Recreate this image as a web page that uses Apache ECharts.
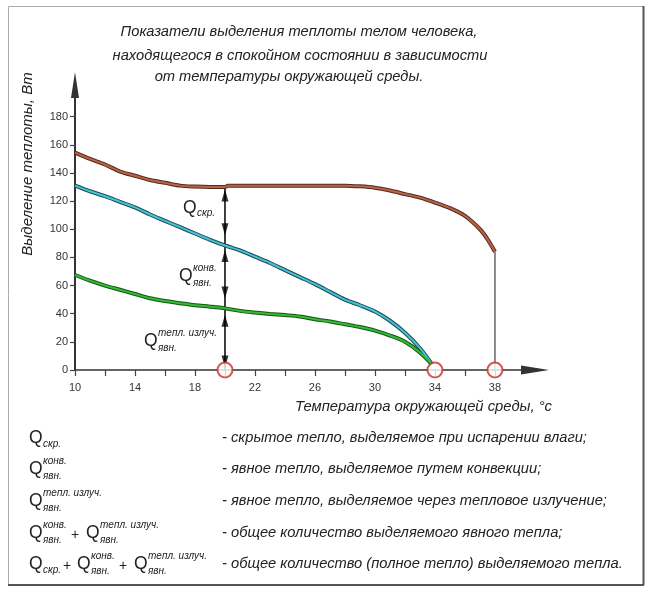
<!DOCTYPE html>
<html>
<head>
<meta charset="utf-8">
<script src="https://cdn.jsdelivr.net/npm/echarts@6/dist/echarts.min.js"></script>
<style>
html,body{margin:0;padding:0;background:#fff;}
#chart{width:660px;height:605px;}
</style>
</head>
<body>
<div id="chart"></div>
<script>
// ---- data ----
const tempTotal = [10, 11, 12, 13, 14, 15, 16, 17, 18, 19, 20, 20.2, 22, 24, 26, 28, 29, 30, 31, 32, 33, 34, 35, 36, 37, 37.5, 38];
const totalHeat = [154.5, 150, 146, 141, 138, 135, 133, 131, 130.3, 130, 130, 131, 131, 131, 131, 131, 130.5, 129.5, 127.5, 125, 122.5, 119, 115, 109.5, 100, 93, 84];
const tempSensible = [10, 11, 12, 13, 14, 15, 16, 17, 18, 19, 20, 21, 22, 23, 24, 25, 26, 27, 28, 29, 30, 31, 32, 33, 33.8];
const sensibleHeat = [131, 127, 123.5, 119.5, 115.5, 110.5, 106, 101.5, 97, 92.5, 88.5, 85, 80.5, 76, 71, 66, 61, 55.5, 50, 46, 41.5, 35, 26.5, 15.5, 4];
const tempRadiant = [10, 11, 12, 13, 14, 15, 16, 17, 18, 19, 20, 21, 22, 23, 24, 25, 26, 27, 28, 29, 30, 31, 32, 33, 33.8];
const radiantHeat = [67.5, 63.5, 60, 57, 54, 51, 49, 47.5, 46, 45, 43.8, 42, 40.8, 39.8, 39, 38, 36, 34.5, 32.5, 30.5, 28, 24.5, 20, 12.5, 4];
const markTemps = [20, 34, 38];
const dividerTemp = 20;
const dividerTop = 131;
const arrowsUp = [124, 81, 35];
const arrowsDown = [100, 55, 6];
const dropTemp = 38;
const dropTop = 84;
const xTicks = [10, 12, 14, 16, 18, 20, 22, 24, 26, 28, 30, 32, 34, 36, 38];
const xLabels = [10, 14, 18, 22, 26, 30, 34, 38];
const yTicks = [0, 20, 40, 60, 80, 100, 120, 140, 160, 180];

const titleLines = [
  'Показатели выделения теплоты телом человека,',
  'находящегося в спокойном состоянии в зависимости',
  'от температуры окружающей среды.'
];
const yAxisTitle = 'Выделение теплоты, Вт';
const xAxisTitle = 'Температура окружающей среды, °с';
const legendTexts = [
  '- скрытое тепло, выделяемое при испарении влаги;',
  '- явное тепло, выделяемое путем конвекции;',
  '- явное тепло, выделяемое через тепловое излучение;',
  '- общее количество выделяемого явного тепла;',
  '- общее количество (полное тепло) выделяемого тепла.'
];

const FONT = "'Liberation Sans', Arial, sans-serif";
const zip = (xs, ys) => xs.map((x, i) => [x, ys[i]]);

function txt(x, y, text, size, opts) {
  opts = opts || {};
  return {
    type: 'text', x: x, y: y, rotation: opts.rotation || 0, z: 100,
    style: {
      text: text, fontSize: size, fontFamily: FONT,
      fontStyle: opts.italic === false ? 'normal' : 'italic',
      fill: opts.fill || '#222',
      align: opts.align || 'left', verticalAlign: 'middle'
    }
  };
}
function qLabel(x, y, sup, sub, subDy) {
  const els = [txt(x, y, 'Q', 17.5, {italic: false})];
  if (sup) els.push(txt(x + 14, y - 8, sup, 10));
  if (sub) els.push(txt(x + 14, y + (subDy || 7), sub, 10));
  return els;
}

const graphics = [
  {type: 'rect', shape: {x: 8.5, y: 6.5, width: 635, height: 578}, style: {fill: 'none', stroke: '#aaa', lineWidth: 1}, z: 1},
  {type: 'line', shape: {x1: 643.5, y1: 6, x2: 643.5, y2: 585}, style: {stroke: '#555', lineWidth: 2}, z: 2},
  {type: 'line', shape: {x1: 8, y1: 585, x2: 644, y2: 585}, style: {stroke: '#555', lineWidth: 2}, z: 2},
  txt(299, 32, titleLines[0], 14.7, {align: 'center'}),
  txt(300, 56, titleLines[1], 14.7, {align: 'center'}),
  txt(289, 77, titleLines[2], 14.7, {align: 'center'}),
  txt(28, 164, yAxisTitle, 15, {align: 'center', rotation: Math.PI / 2}),
  txt(552, 407, xAxisTitle, 14.8, {align: 'right'}),
  // in-plot labels
  ...qLabel(183, 208, null, 'скр.', 5),
  ...qLabel(179, 276, 'конв.', 'явн.'),
  ...qLabel(144, 341, 'тепл. излуч.', 'явн.'),
  // legend
  ...qLabel(29, 438, null, 'скр.', 6),
  ...qLabel(29, 469, 'конв.', 'явн.'),
  ...qLabel(29, 501, 'тепл. излуч.', 'явн.'),
  ...qLabel(29, 533, 'конв.', 'явн.'),
  txt(75, 535, '+', 14, {italic: false, align: 'center'}),
  ...qLabel(86, 533, 'тепл. излуч.', 'явн.'),
  ...qLabel(29, 564, null, 'скр.', 6),
  txt(67, 566, '+', 14, {italic: false, align: 'center'}),
  ...qLabel(77, 564, 'конв.', 'явн.'),
  txt(123, 566, '+', 14, {italic: false, align: 'center'}),
  ...qLabel(134, 564, 'тепл. излуч.', 'явн.'),
];
const legendY = [438, 469, 501, 533, 564];
legendTexts.forEach((t, i) => graphics.push(txt(222, legendY[i], t, 14.7)));

function curve(name, data, color, dark) {
  return [
    {type: 'line', name: name + '_edge', data: data, smooth: 0.3, symbol: 'none', silent: true,
     lineStyle: {color: dark, width: 4}, z: 3},
    {type: 'line', name: name, data: data, smooth: 0.3, symbol: 'none', silent: true,
     lineStyle: {color: color, width: 2}, z: 4}
  ];
}

const option = {
  animation: false,
  backgroundColor: '#fff',
  grid: {left: 75, top: 85, width: 460, height: 285, containLabel: false},
  xAxis: {
    type: 'value', min: 10, max: 40.67,
    axisLine: {show: true, symbol: ['none', 'triangle'], symbolSize: [9, 28],
               lineStyle: {color: '#333', width: 1.5}},
    axisTick: {show: true, customValues: xTicks, length: 6, lineStyle: {color: '#444', width: 1.2}},
    axisLabel: {customValues: xLabels, color: '#333', fontSize: 11, fontFamily: FONT, margin: 12},
    splitLine: {show: false}
  },
  yAxis: {
    type: 'value', min: 0, max: 202.5,
    axisLine: {show: true, symbol: ['none', 'triangle'], symbolSize: [8, 26],
               lineStyle: {color: '#333', width: 2}},
    axisTick: {show: true, customValues: yTicks, length: 5, lineStyle: {color: '#444', width: 1.2}},
    axisLabel: {customValues: yTicks, color: '#333', fontSize: 11, fontFamily: FONT, margin: 7},
    splitLine: {show: false}
  },
  graphic: graphics,
  series: [
    {type: 'line', data: [[dropTemp, 0], [dropTemp, dropTop]], symbol: 'none', silent: true,
     lineStyle: {color: '#666', width: 1.5}, z: 2},
    {type: 'line', data: [[dividerTemp, 0], [dividerTemp, dividerTop]], symbol: 'none', silent: true,
     lineStyle: {color: '#000', width: 1.5}, z: 2},
    ...curve('total', zip(tempTotal, totalHeat), '#b5664a', '#5a2818'),
    ...curve('sensible', zip(tempSensible, sensibleHeat), '#46c4d4', '#1c4c56'),
    ...curve('radiant', zip(tempRadiant, radiantHeat), '#34bb34', '#155515'),
    {type: 'scatter', data: arrowsUp.map(v => [dividerTemp, v]), symbol: 'triangle', symbolSize: [7, 12],
     itemStyle: {color: '#000'}, silent: true, z: 6},
    {type: 'scatter', data: arrowsDown.map(v => [dividerTemp, v]), symbol: 'triangle', symbolSize: [7, 12], symbolRotate: 180,
     itemStyle: {color: '#000'}, silent: true, z: 6},
    {type: 'scatter', data: markTemps.map(t => [t, 0]), symbol: 'circle', symbolSize: 15,
     itemStyle: {color: '#fff', borderColor: '#c8302c', borderWidth: 2}, silent: true, z: 10}
  ]
};

const chart = echarts.init(document.getElementById('chart'), null, {renderer: 'canvas'});
chart.setOption(option);
</script>
</body>
</html>
